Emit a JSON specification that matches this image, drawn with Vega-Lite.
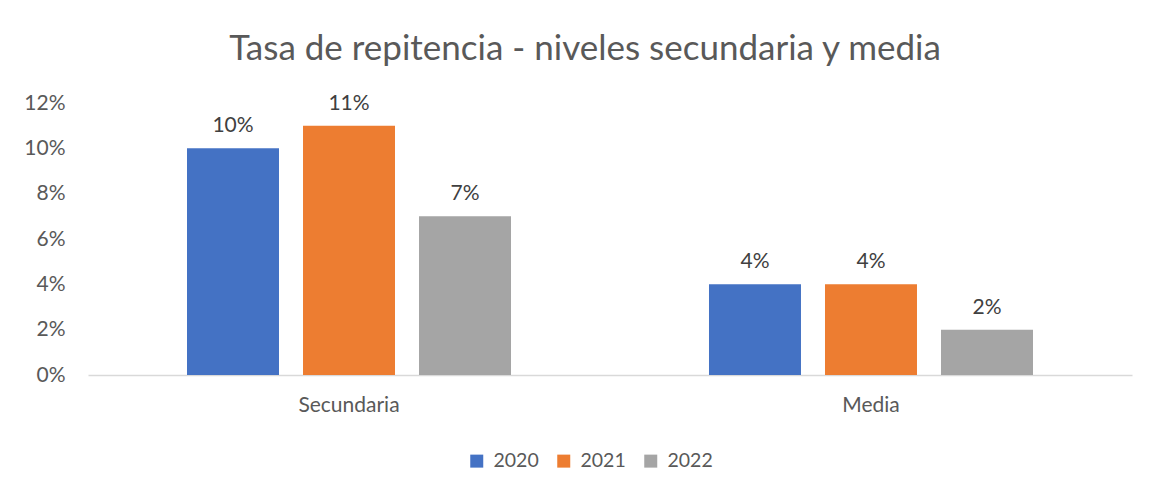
{
  "$schema": "https://vega.github.io/schema/vega-lite/v6.json",
  "width": 1044,
  "height": 272,
  "autosize": {"type": "none"},
  "padding": {"left": 88, "top": 103, "right": 17, "bottom": 117},
  "background": "white",
  "title": {
    "text": "Tasa de repitencia - niveles secundaria y media",
    "anchor": "middle",
    "dx": -25,
    "offset": 25,
    "font": "Lato",
    "fontSize": 35,
    "fontWeight": "normal",
    "color": "#595959"
  },
  "config": {
    "view": {"stroke": null},
    "font": "Lato"
  },
  "data": {
    "values": [
      {"nivel": "Secundaria", "anio": "2020", "tasa": 0.10},
      {"nivel": "Secundaria", "anio": "2021", "tasa": 0.11},
      {"nivel": "Secundaria", "anio": "2022", "tasa": 0.07},
      {"nivel": "Media", "anio": "2020", "tasa": 0.04},
      {"nivel": "Media", "anio": "2021", "tasa": 0.04},
      {"nivel": "Media", "anio": "2022", "tasa": 0.02}
    ]
  },
  "encoding": {
    "x": {
      "field": "nivel",
      "type": "nominal",
      "sort": ["Secundaria", "Media"],
      "scale": {"paddingInner": 0.3333, "paddingOuter": 0.16667},
      "axis": {
        "title": null,
        "labelAngle": 0,
        "labelFontSize": 21,
        "labelColor": "#595959",
        "labelPadding": 19,
        "ticks": false,
        "domainColor": "#D9D9D9",
        "domainWidth": 1.5
      }
    },
    "xOffset": {
      "field": "anio",
      "type": "nominal",
      "scale": {"paddingInner": 0.207, "paddingOuter": 0.1035}
    },
    "y": {
      "field": "tasa",
      "type": "quantitative",
      "scale": {"domain": [0, 0.12]},
      "axis": {
        "title": null,
        "format": ".0%",
        "values": [0, 0.02, 0.04, 0.06, 0.08, 0.1, 0.12],
        "grid": false,
        "domain": false,
        "ticks": false,
        "labelFontSize": 21,
        "labelColor": "#595959",
        "labelPadding": 23
      }
    }
  },
  "layer": [
    {
      "mark": {"type": "bar"},
      "encoding": {
        "color": {
          "field": "anio",
          "type": "nominal",
          "scale": {"domain": ["2020", "2021", "2022"], "range": ["#4472C4", "#ED7D31", "#A5A5A5"]},
          "legend": {
            "title": null,
            "orient": "none",
            "direction": "horizontal",
            "legendX": 379,
            "legendY": 348,
            "symbolType": "square",
            "symbolSize": 169,
            "symbolStrokeWidth": 0,
            "labelFontSize": 19.5,
            "labelColor": "#595959",
            "labelOffset": 7,
            "columnPadding": 15
          }
        }
      }
    },
    {
      "mark": {"type": "text", "baseline": "bottom", "dy": -12, "fontSize": 21, "color": "#404040"},
      "encoding": {
        "text": {"field": "tasa", "type": "quantitative", "format": ".0%"}
      }
    }
  ]
}
